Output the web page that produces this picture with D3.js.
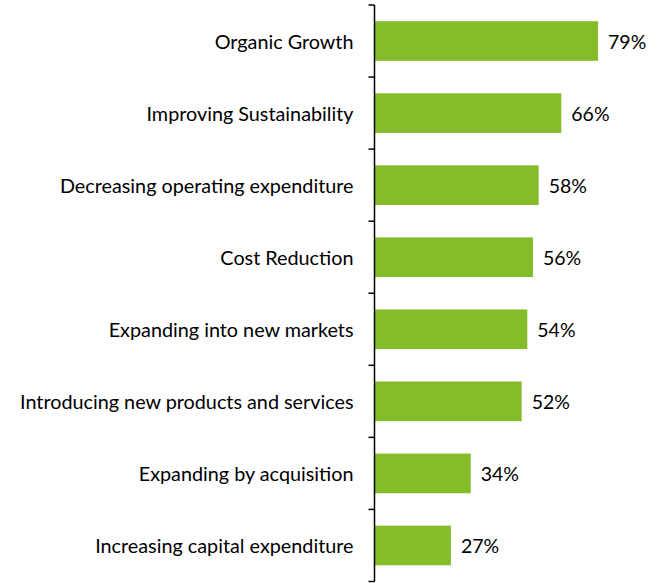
<!DOCTYPE html>
<meta charset="utf-8">
<html>
<style>
body { margin: 0; background: #fff; }
text { font-family: Lato, "Noto Sans", sans-serif; fill: #000; }
.axis path, .axis line { stroke: #000; stroke-width: 1.5px; }
</style>
<body>
<script src="https://cdnjs.cloudflare.com/ajax/libs/d3/7.8.5/d3.min.js"></script>
<script>
	var categories = [
		"Organic Growth",
		"Improving Sustainability",
		"Decreasing operating expenditure",
		"Cost Reduction",
		"Expanding into new markets",
		"Introducing new products and services",
		"Expanding by acquisition",
		"Increasing capital expenditure"
	];
	var values = [79, 66, 58, 56, 54, 52, 34, 27];

	var width = 657;
	var height = 583;
	var axisX = 374.5;
	var plotTop = 5;
	var plotBottom = 581.5;

	var svg = d3.select("body")
		.append("svg")
		.attr("width", width)
		.attr("height", height);

	var y = d3.scaleBand()
		.domain(categories)
		.range([plotTop, plotBottom])
		.paddingInner(0.45)
		.paddingOuter(0.225);

	// 100% would sit at about 283px from the axis
	var x = d3.scaleLinear()
		.domain([0, 100])
		.range([axisX, axisX + 283]);

	svg.append("g")
		.selectAll("rect")
		.data(values)
		.enter()
		.append("rect")
		.attr("x", x(0))
		.attr("y", (d, i) => y(categories[i]))
		.attr("width", d => x(d) - x(0))
		.attr("height", y.bandwidth())
		.style("fill", "#85bc2a");

	svg.append("g")
		.selectAll("text")
		.data(values)
		.enter()
		.append("text")
		.attr("x", d => x(d) + 10)
		.attr("y", (d, i) => y(categories[i]) + y.bandwidth() / 2)
		.attr("dy", "0.4em")
		.style("font-size", "19.5px")
		.text(d => d + "%");

	// category boundaries get the tick marks
	var step = y.step();
	var ticks = d3.range(categories.length + 1).map(i => plotTop + i * step);

	var axis = svg.append("g").attr("class", "axis");
	axis.append("line")
		.attr("x1", axisX).attr("x2", axisX)
		.attr("y1", plotTop).attr("y2", plotBottom);
	axis.selectAll(".tick")
		.data(ticks)
		.enter()
		.append("line")
		.attr("x1", axisX - 6).attr("x2", axisX)
		.attr("y1", d => d).attr("y2", d => d);

	axis.selectAll(".label")
		.data(categories)
		.enter()
		.append("text")
		.attr("x", axisX - 21)
		.attr("y", d => y(d) + y.bandwidth() / 2)
		.attr("dy", "0.4em")
		.attr("text-anchor", "end")
		.style("font-size", "19.8px")
		.text(d => d);
</script>
</body>
</html>
